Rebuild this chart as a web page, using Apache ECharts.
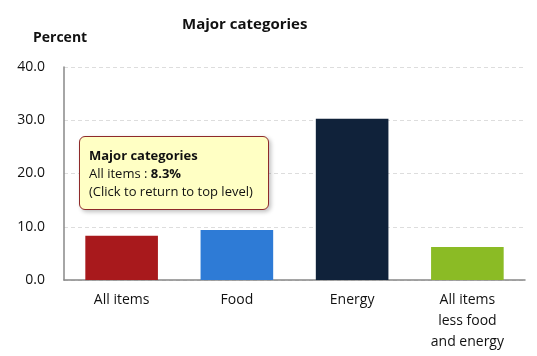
<!DOCTYPE html>
<html><head><meta charset="utf-8">
<script src="https://cdn.jsdelivr.net/npm/echarts@6/dist/echarts.min.js"></script>
<style>html,body{margin:0;padding:0;background:#fff}#c{width:537px;height:356px}</style>
</head><body><div id="c"></div>
<script>
const categories = ['All items', 'Food', 'Energy', 'All items\nless food\nand energy'];
const tooltipNames = ['All items', 'Food', 'Energy', 'All items less food and energy'];
const values = [8.3, 9.4, 30.3, 6.2];
const barColors = ['#A8191C', '#2E7BD6', '#10223A', '#8BBB25'];
const yTicks = [0, 10, 20, 30, 40];
const titleText = 'Major categories';
const yName = 'Percent';

const chart = echarts.init(document.getElementById('c'), null, {renderer: 'canvas'});
const font = '"Open Sans", "Noto Sans", sans-serif';
chart.setOption({
  animation: false,
  textStyle: {fontFamily: font},
  title: {text: titleText, left: 177, top: 12,
    textStyle: {fontFamily: font, fontSize: 15, fontWeight: 'bold', color: '#111'}},
  grid: {left: 64, right: 12, top: 67, bottom: 76},
  tooltip: {
    trigger: 'item', alwaysShowContent: true, triggerOn: 'none',
    position: [79, 136],
    backgroundColor: '#FFFFC4', borderColor: '#8E2A2A', borderWidth: 1.5,
    borderRadius: 6, padding: [9, 9],
    extraCssText: 'box-shadow:2px 2px 4px rgba(0,0,0,0.25);',
    textStyle: {fontFamily: font, fontSize: 13, color: '#111'},
    formatter: p => '<div style="line-height:18px;width:170px"><b>' + titleText + '</b><br>' +
      tooltipNames[p.dataIndex] + ' : <b>' + p.value.toFixed(1) + '%</b><br>(Click to return to top level)</div>'
  },
  xAxis: {
    type: 'category', data: categories,
    axisLine: {lineStyle: {color: '#888', width: 1.5}},
    axisTick: {show: false},
    axisLabel: {color: '#111', fontSize: 14, lineHeight: 21, margin: 10, interval: 0}
  },
  yAxis: {
    type: 'value', min: yTicks[0], max: yTicks[yTicks.length - 1], interval: 10,
    name: yName, nameLocation: 'end', nameGap: 0,
    nameTextStyle: {fontFamily: font, fontSize: 14, fontWeight: 'bold', color: '#111', align: 'left', padding: [0, 0, 22, -31]},
    axisLine: {show: true, lineStyle: {color: '#888', width: 1.5}},
    axisTick: {show: false},
    splitLine: {lineStyle: {color: '#ddd', type: [4, 3]}},
    axisLabel: {color: '#111', fontSize: 14, margin: 19, formatter: v => v.toFixed(1)}
  },
  series: [{
    type: 'bar', barWidth: '63%',
    data: values.map((v, i) => ({value: v, itemStyle: {color: barColors[i]}}))
  }]
});
chart.dispatchAction({type: 'showTip', seriesIndex: 0, dataIndex: 0});
</script></body></html>
